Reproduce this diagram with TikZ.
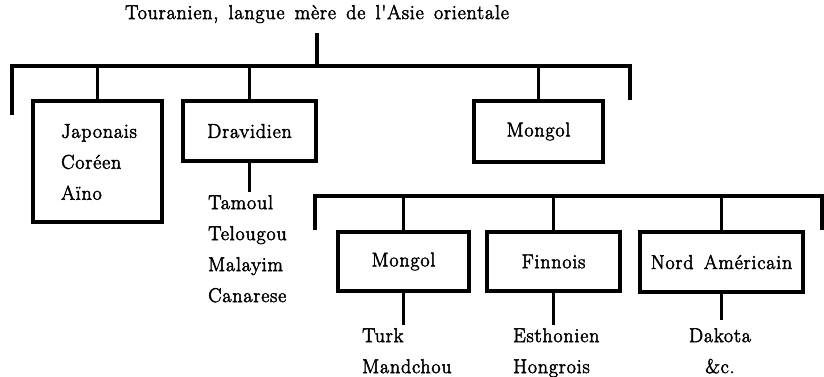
\documentclass[tikz,border=0pt]{standalone}
\usepackage{fontspec}
\newfontfamily\plate{Latin Modern Roman}[FakeBold=2.5,LetterSpace=4,WordSpace=1.5]
\begin{document}
\begin{tikzpicture}[x=1pt,y=-1pt,
  rule/.style={line width=3.5pt},
  txt/.style={font=\plate\fontsize{20}{31}\selectfont,inner sep=0pt},
  langbox/.style={txt,draw,line width=3.5pt},
  wordlist/.style={txt,align=left,anchor=north west}]
\useasboundingbox (0,0) rectangle (824,376);

% root of the tree
\node[txt] (root) at (317,14) {Touranien, langue mère de l'Asie orientale};

% first-level branches
\node[langbox,minimum width=129pt,minimum height=121pt] (jap) at (97.5,161.5) {};
\node[txt,align=left] (japtext) at (99,162) {Japonais\\Coréen\\Aïno};
\node[langbox,minimum width=133pt,minimum height=60pt] (drav) at (249.5,131) {Dravidien};
\node[langbox,minimum width=129pt,minimum height=61pt] (mong) at (538.5,131.5) {Mongol};

% second-level branches
\node[langbox,minimum width=131pt,minimum height=59pt] (mong2) at (403.5,261.5) {Mongol};
\node[langbox,minimum width=133pt,minimum height=59pt] (finn) at (553.5,261.5) {Finnois};
\node[langbox,minimum width=163pt,minimum height=60pt] (nord) at (721.5,262) {Nord Américain};

% word lists under the boxes
\node[wordlist] (dlist) at (208,195) {Tamoul\\Telougou\\Malayim\\Canarese};
\node[wordlist] (mlist) at (362,328) {Turk\\Mandchou};
\node[wordlist] (flist) at (513,328) {Esthonien\\Hongrois};
\node[txt,align=center,anchor=north] (nlist) at (720,328) {Dakota\\\&c.};

% upper bar with its end stubs
\coordinate (bar1) at (317,66);
\coordinate (s1a) at (12,115);
\coordinate (s1b) at (12,66);
\coordinate (s1c) at (630,66);
\coordinate (s1d) at (630,100);
\draw[rule] (s1a) -- (s1b) -- (s1c) -- (s1d);
\draw[rule] ([yshift=-10pt]root.south) -- (bar1);
\draw[rule] (jap.north) -- (jap.north |- bar1);
\draw[rule] (drav.north) -- (drav.north |- bar1);
\draw[rule] (mong.north) -- (mong.north |- bar1);

% lower bar with its end stubs
\coordinate (bar2) at (400,196);
\coordinate (s2a) at (315,230);
\coordinate (s2b) at (315,196);
\coordinate (s2c) at (822,196);
\coordinate (s2d) at (822,230);
\draw[rule] (s2a) -- (s2b) -- (s2c) -- (s2d);
\draw[rule] (mong2.north) -- (mong2.north |- bar2);
\draw[rule] (finn.north) -- (finn.north |- bar2);
\draw[rule] (nord.north) -- (nord.north |- bar2);

% stems down to the word lists
\draw[rule,shorten >=3pt] (drav.south) -- (drav.south |- dlist.north);
\draw[rule,shorten >=3pt] (mong2.south) -- (mong2.south |- mlist.north);
\draw[rule,shorten >=3pt] (finn.south) -- (finn.south |- flist.north);
\draw[rule,shorten >=8pt] (nord.south) -- (nord.south |- nlist.north);
\end{tikzpicture}
\end{document}
